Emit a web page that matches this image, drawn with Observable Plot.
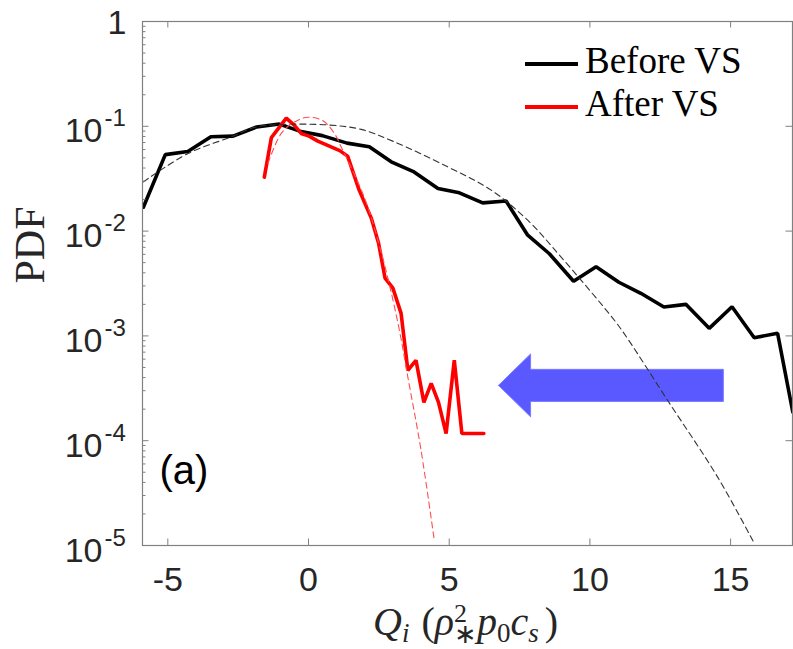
<!DOCTYPE html>
<html>
<head>
<meta charset="utf-8">
<script src="https://cdn.jsdelivr.net/npm/d3@7"></script>
<script src="https://cdn.jsdelivr.net/npm/@observablehq/plot@0.6"></script>
<style>
  html, body { margin: 0; padding: 0; background: #fff; }
  svg { display: block; }
</style>
</head>
<body>
<div id="chart"></div>
<script>
// ---- data ----
const beforeX = [-5.87,-5.09,-4.29,-3.47,-2.68,-1.84,-1.04,-0.26,0.49,1.37,2.16,2.94,3.75,4.60,5.36,6.19,7.02,7.79,8.56,9.42,10.22,11.03,11.81,12.63,13.41,14.24,15.05,15.84,16.67,17.21];
const beforeY = [0.0169,0.0537,0.0576,0.0794,0.0806,0.0986,0.105,0.0890,0.0815,0.0691,0.0637,0.0458,0.0367,0.0255,0.0232,0.0186,0.0194,0.00914,0.00608,0.00332,0.00457,0.00325,0.00255,0.00189,0.00200,0.00118,0.00190,0.00096,0.00106,0.000188];

const afterX = [-1.57,-1.32,-0.79,-0.51,-0.26,0.02,0.33,0.70,1.11,1.39,1.80,2.23,2.49,2.72,3.00,3.29,3.53,3.82,4.10,4.36,4.62,4.89,5.18,5.45,5.72,5.98,6.23];
const afterY = [0.0327,0.0780,0.1198,0.1026,0.0855,0.0806,0.0722,0.0654,0.0586,0.0519,0.0246,0.0133,0.00766,0.00355,0.00285,0.00164,0.000470,0.000585,0.000232,0.000352,0.000232,0.000117,0.000585,0.000117,0.000117,0.000117,0.000117];

const beforeFitX = [-5.87,-4.28,-2.74,-1.92,-0.97,0.69,1.87,3.05,4.95,6.49,7.79,8.97,10.87,11.34,12.76,14.54,15.84];
const beforeFitY = [0.0295,0.0551,0.0794,0.0977,0.104,0.103,0.0934,0.0711,0.0410,0.0246,0.0127,0.00568,0.00141,0.000942,0.000243,0.0000449,0.0000105];

const afterFitX = [-1.44,-0.97,-0.50,-0.02,0.51,0.92,1.16,2.00,2.50,2.88,3.23,3.53,4.00,4.47];
const afterFitY = [0.0443,0.0855,0.110,0.122,0.113,0.0855,0.0637,0.0204,0.00759,0.00304,0.00113,0.000405,0.0000807,0.0000112];

const xTicks = [-5, 0, 5, 10, 15];
const xTickLabels = ["-5", "0", "5", "10", "15"];
const yTicks = [1e-5, 1e-4, 1e-3, 1e-2, 1e-1, 1];
const yTickBase = ["10", "10", "10", "10", "10", "1"];
const yTickExp = ["-5", "-4", "-3", "-2", "-1", ""];

const seriesNames = ["Before VS", "After VS"];
const seriesColors = ["#000000", "#ff0000"];
const fitColors = ["#333333", "#ff4d4d"];

// arrow annotation (data units: x, and log10 of PDF)
const arrowTipX = 6.77, arrowHeadBaseX = 7.91, arrowTailX = 14.76;
const arrowLog = -3.477, arrowShaftHalf = 0.153, arrowHeadHalf = 0.30;

// ---- build tables ----
const zip = (xs, ys, s) => xs.map((x, i) => ({x, y: ys[i], s}));
const solid = [...zip(beforeX, beforeY, seriesNames[0]), ...zip(afterX, afterY, seriesNames[1])];
const fitB = zip(beforeFitX, beforeFitY, seriesNames[0]);
const fitA = zip(afterFitX, afterFitY, seriesNames[1]);
const arrowPoly = [
  {x: arrowTipX, lo: 10 ** arrowLog, hi: 10 ** arrowLog},
  {x: arrowHeadBaseX, lo: 10 ** (arrowLog - arrowHeadHalf), hi: 10 ** (arrowLog + arrowHeadHalf)},
  {x: arrowHeadBaseX, lo: 10 ** (arrowLog - arrowShaftHalf), hi: 10 ** (arrowLog + arrowShaftHalf)},
  {x: arrowTailX, lo: 10 ** (arrowLog - arrowShaftHalf), hi: 10 ** (arrowLog + arrowShaftHalf)}
];
const minor = [];
for (let e = -5; e < 0; e++) for (let m = 2; m <= 9; m++) minor.push(m * 10 ** e);
const yTab = yTicks.map((v, i) => ({v, base: yTickBase[i], exp: yTickExp[i]}));
const xTab = xTicks.map((v, i) => ({v, t: xTickLabels[i]}));

const axisColor = "#808080";
const textColor = "#262626";
const W = 793, H = 649, mL = 142, mR = 1, mT = 21, mB = 104;
const plotW = W - mL - mR, plotH = H - mT - mB;
const sans = "Liberation Sans, Arial, sans-serif";
const serif = "Liberation Serif, Times New Roman, serif";

const svg = Plot.plot({
  width: W, height: H,
  marginLeft: mL, marginRight: mR, marginTop: mT, marginBottom: mB,
  style: {background: "#fff", overflow: "visible"},
  x: {domain: [-5.9, 17.2], axis: null},
  y: {type: "log", domain: [1e-5, 1], axis: null},
  color: {domain: seriesNames, range: seriesColors},
  marks: [
    // arrow
    Plot.area(arrowPoly, {x1: "x", y1: "lo", y2: "hi", fill: "#5959ff", stroke: "#7a7aff", strokeWidth: 1}),
    // solid curves
    Plot.line(solid, {x: "x", y: "y", z: "s", stroke: "s", strokeWidth: 3.6, strokeLinejoin: "miter", clip: true}),
    // fitted dashed curves
    Plot.line(fitB, {x: "x", y: "y", stroke: fitColors[0], strokeWidth: 1.1, strokeDasharray: "6,4", curve: "catmull-rom", clip: true}),
    Plot.line(fitA, {x: "x", y: "y", stroke: fitColors[1], strokeWidth: 1.1, strokeDasharray: "6,4", curve: "catmull-rom", clip: true}),
    // box
    Plot.frame({stroke: axisColor, strokeWidth: 1.2}),
    // ticks (inside, MATLAB style)
    Plot.tickX(xTicks, {x: d => d, insetTop: plotH - 6.5, stroke: axisColor}),
    Plot.tickX(xTicks, {x: d => d, insetBottom: plotH - 6.5, stroke: axisColor}),
    Plot.tickY(yTicks, {y: d => d, insetRight: plotW - 6.5, stroke: axisColor}),
    Plot.tickY(yTicks, {y: d => d, insetLeft: plotW - 6.5, stroke: axisColor}),
    Plot.tickY(minor, {y: d => d, insetRight: plotW - 3.5, stroke: axisColor}),
    // x tick labels
    Plot.text(xTab, {x: "v", text: "t", frameAnchor: "bottom", dy: 45, lineAnchor: "bottom", fontSize: 34, fontFamily: sans, fill: textColor}),
    // y tick labels
    Plot.text(yTab.filter(d => d.exp), {y: "v", text: "base", frameAnchor: "left", textAnchor: "end", dx: -40, dy: 16, lineAnchor: "bottom", fontSize: 34, fontFamily: sans, fill: textColor}),
    Plot.text(yTab.filter(d => d.exp), {y: "v", text: "exp", frameAnchor: "left", textAnchor: "start", dx: -38, dy: 0, lineAnchor: "bottom", fontSize: 24, fontFamily: sans, fill: textColor}),
    Plot.text(yTab.filter(d => !d.exp), {y: "v", text: "base", frameAnchor: "left", textAnchor: "end", dx: -16, dy: 12, lineAnchor: "bottom", fontSize: 34, fontFamily: sans, fill: textColor}),
    // y label
    Plot.text(["PDF"], {frameAnchor: "left", dx: -112, rotate: -90, fontSize: 42, fontFamily: serif, fill: textColor}),
    // panel label
    Plot.text(["(a)"], {frameAnchor: "bottom-left", dx: 17, dy: -62, textAnchor: "start", lineAnchor: "bottom", fontSize: 40, fontFamily: sans, fill: "#000"})
  ]
});

// legend + x label (need line samples and sub/superscripts)
const s = d3.select(svg);
const lg = s.append("g").attr("text-anchor", "start");
seriesNames.forEach((name, i) => {
  const yy = 64 + i * 43;
  lg.append("line").attr("x1", 525).attr("x2", 578).attr("y1", yy).attr("y2", yy)
    .attr("stroke", seriesColors[i]).attr("stroke-width", 3.8);
  lg.append("text").attr("x", 585).attr("y", yy + 9).attr("text-anchor", "start")
    .attr("font-family", serif).attr("font-size", 37)
    .attr("fill", "#000").text(name);
});

const xl = s.append("text").attr("x", 373).attr("y", 635).attr("text-anchor", "start")
  .attr("font-family", serif).attr("font-size", 40).attr("fill", textColor);
const parts = [
  ["Q", {italic: true}],
  ["i", {italic: true, size: 27, dy: 7}],
  ["(", {dy: -7, dx: 12}],
  ["ρ", {italic: true}],
  ["2", {size: 26, dy: -13}],
  ["∗", {size: 27, dx: -13, dy: 21}],
  ["p", {italic: true, dy: -8}],
  ["0", {size: 27, dy: 7}],
  ["c", {italic: true, dy: -7}],
  ["s", {italic: true, size: 27, dy: 7}],
  [")", {dy: -7, dx: 6}]
];
parts.forEach(([t, o]) => {
  const ts = xl.append("tspan").text(t);
  if (o.italic) ts.attr("font-style", "italic");
  if (o.size) ts.attr("font-size", o.size);
  if (o.dy) ts.attr("dy", o.dy);
  if (o.dx) ts.attr("dx", o.dx);
});

document.getElementById("chart").appendChild(svg);
</script>
</body>
</html>
